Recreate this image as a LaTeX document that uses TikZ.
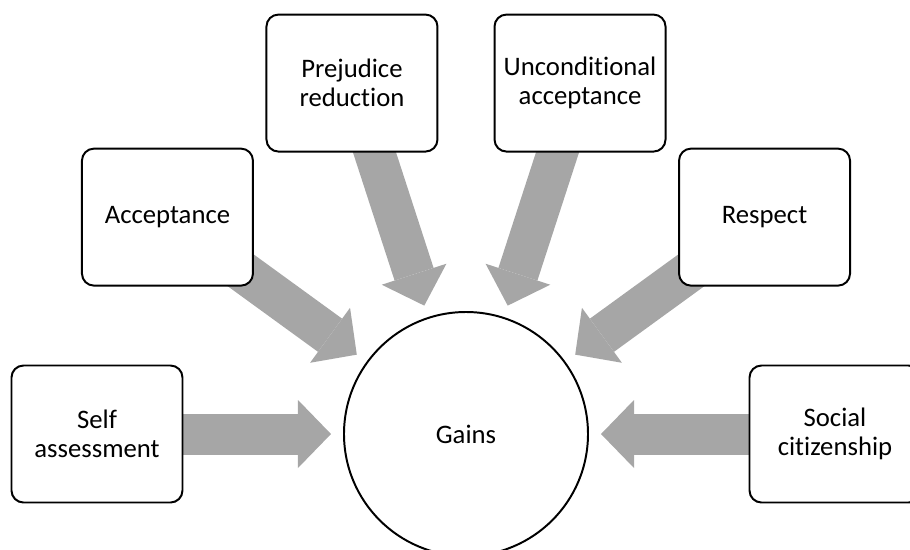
\documentclass[tikz,border=0pt]{standalone}
\usepackage{fontspec}
\setmainfont{Carlito}[Ligatures=NoCommon]
\usetikzlibrary{arrows.meta,calc,backgrounds}
\definecolor{flowgray}{RGB}{166,166,166}
\tikzset{
  topic/.style={
    rectangle,
    rounded corners=0.3cm,
    draw=black,
    fill=white,
    line width=1.4pt,
    minimum width=4.275cm,
    minimum height=3.425cm,
    align=center,
    font=\fontsize{19}{20.6}\selectfont
  },
  hub/.style={
    circle,
    draw=black,
    fill=white,
    line width=1.4pt,
    minimum size=6.1cm,
    inner sep=0pt,
    font=\fontsize{19}{20.6}\selectfont
  },
  bigarrow/.style={
    draw=flowgray,
    line width=1.025cm,
    -{Triangle[width=1.7cm,length=0.825cm,line width=0pt]}
  }
}

\begin{document}
\begin{tikzpicture}
  \useasboundingbox (-11.65,-2.875) rectangle (11.1,10.85);
  \clip (-11.65,-2.875) rectangle (11.1,10.85);
  % centre circle
  \node[hub] (gains) at (0,0) {Gains};
  % outer boxes
  \node[topic] (self) at (180:9.225) {Self\\assessment};
  \node[topic] (accept) at (144:9.225) {Acceptance};
  \node[topic] (prejudice) at (108:9.225) {Prejudice\\reduction};
  \node[topic] (uncond) at (72:9.225) {Unconditional\\acceptance};
  \node[topic] (respect) at (36:9.225) {Respect};
  \node[topic] (social) at (0:9.225) {Social\\citizenship};
  % arrow tips, just off the circle
  \coordinate (self-tip) at ($(gains)!3.375cm!(self)$);
  \coordinate (accept-tip) at ($(gains)!3.375cm!(accept)$);
  \coordinate (prejudice-tip) at ($(gains)!3.375cm!(prejudice)$);
  \coordinate (uncond-tip) at ($(gains)!3.375cm!(uncond)$);
  \coordinate (respect-tip) at ($(gains)!3.375cm!(respect)$);
  \coordinate (social-tip) at ($(gains)!3.375cm!(social)$);
  \begin{scope}[on background layer]
    \draw[bigarrow] (self.center) -- (self-tip);
    \draw[bigarrow] (accept.center) -- (accept-tip);
    \draw[bigarrow] (prejudice.center) -- (prejudice-tip);
    \draw[bigarrow] (uncond.center) -- (uncond-tip);
    \draw[bigarrow] (respect.center) -- (respect-tip);
    \draw[bigarrow] (social.center) -- (social-tip);
  \end{scope}
\end{tikzpicture}
\end{document}
